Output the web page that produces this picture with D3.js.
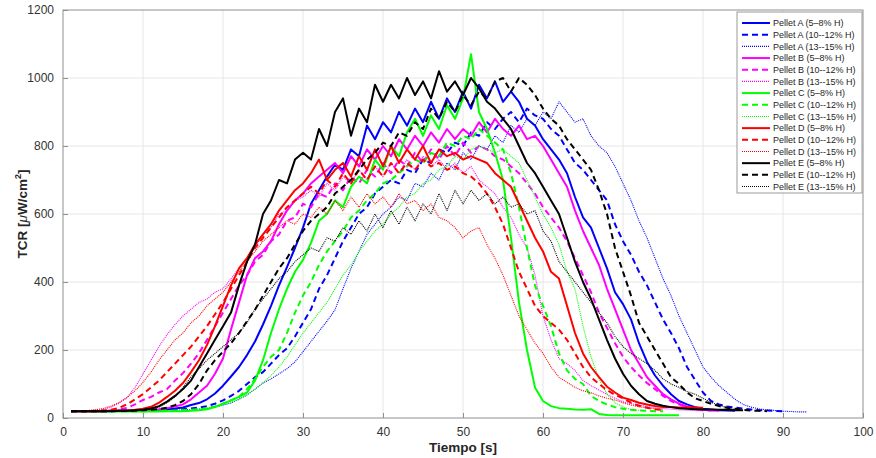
<!DOCTYPE html>
<html>
<head>
<meta charset="utf-8">
<script src="https://cdn.jsdelivr.net/npm/d3@7"></script>
<style>
  body { margin: 0; background: #fff; }
  svg { font-family: "Liberation Sans", Arial, sans-serif; }
</style>
</head>
<body>
<svg id="chart" width="876" height="458"></svg>
<script>
// sample times in seconds, one value per second starting at t = 1
const tiempo = d3.range(1, 94);

const xTicks = [0, 10, 20, 30, 40, 50, 60, 70, 80, 90, 100];
const yTicks = [0, 200, 400, 600, 800, 1000, 1200];

// Pellet A
const pelletA_5_8 = [20,20,20,20,20,21,21,21,22,22,23,24,26,28,31,38,44,55,72,95,122,150,185,225,275,330,390,444,500,560,630,670,710,745,730,790,770,860,820,870,840,900,860,910,870,930,880,940,900,960,910,980,940,990,930,960,930,880,860,820,790,760,720,650,590,560,500,440,370,335,290,220,165,125,95,70,50,40,32,27,25,23,22,21];
const pelletA_10_12 = [20,20,20,20,20,20,21,21,21,22,22,23,23,24,26,28,31,35,42,52,65,80,100,120,135,160,185,205,240,280,320,380,420,470,520,560,600,620,660,680,700,690,730,720,760,750,790,780,810,800,840,830,870,850,880,900,870,910,890,880,850,830,790,750,730,700,670,640,570,520,480,430,390,340,290,250,205,150,112,75,50,40,34,31,28,25,23,22,21,20];
const pelletA_13_15 = [20,20,20,20,20,20,20,21,21,21,22,22,23,23,24,25,26,28,32,38,44,55,68,85,103,115,130,145,165,195,225,255,285,318,380,440,490,540,570,600,620,650,640,690,680,720,700,750,730,780,760,800,790,830,810,860,840,880,860,900,880,930,900,870,880,830,800,780,740,690,640,580,530,470,410,360,300,250,200,150,120,95,75,55,40,32,27,24,22,20,19,18,18];

// Pellet B
const pelletB_5_8 = [20,20,20,20,20,21,21,22,22,23,24,26,29,34,40,55,75,95,130,175,260,340,420,470,490,520,570,610,640,660,690,710,730,750,720,770,740,790,760,800,770,820,790,830,800,840,810,850,820,850,830,870,840,880,850,830,860,820,830,800,760,720,680,610,550,500,450,380,320,260,200,160,120,95,70,55,42,34,28,24,22,21];
const pelletB_10_12 = [20,20,20,20,21,22,25,30,40,53,62,75,85,110,132,160,191,230,270,310,350,390,420,460,480,520,540,580,590,630,620,660,650,690,670,710,690,730,710,750,720,760,740,780,750,790,760,800,770,810,780,800,790,770,760,740,720,690,660,620,590,560,520,470,420,370,310,265,220,180,150,125,103,85,65,50,40,32,27,24,22];
const pelletB_13_15 = [20,20,21,22,25,32,44,60,90,130,170,210,245,275,300,320,340,350,370,380,410,440,470,500,540,560,600,610,640,650,670,650,690,670,710,690,730,700,740,710,750,720,760,730,770,740,760,730,750,720,740,700,680,660,620,590,540,500,420,300,230,175,160,140,110,95,82,70,58,48,42,38,34,30,28,26,24,23,22,21];

// Pellet C
const pelletC_5_8 = [20,20,20,19,19,19,19,19,19,19,19,19,20,20,20,21,23,26,32,42,52,62,75,110,170,250,320,380,430,465,515,580,600,640,620,680,710,690,760,730,800,770,840,880,830,890,850,920,880,940,1070,900,850,780,700,530,340,200,90,50,35,29,27,25,24,26,12,9,8,8,8,8,8,8,8,8,8];
const pelletC_10_12 = [20,20,20,20,20,20,20,20,20,20,21,21,21,22,23,24,26,29,34,42,52,62,85,115,150,180,200,250,310,360,400,450,490,520,550,590,610,640,660,690,700,720,740,760,750,780,770,810,800,830,820,850,830,810,790,720,620,500,390,330,270,190,140,115,100,65,50,40,32,27,24,22,21,20,20];
const pelletC_13_15 = [20,20,20,20,20,20,20,20,20,20,20,21,21,22,23,24,26,29,34,40,46,55,68,85,103,125,150,180,215,250,280,310,340,380,420,450,490,520,550,570,600,620,650,660,690,700,730,740,770,760,790,800,790,780,790,770,750,700,650,600,560,510,430,380,270,180,115,70,45,32,25,22];

// Pellet D
const pelletD_5_8 = [20,20,20,20,20,21,21,22,24,27,33,45,62,80,103,135,170,215,270,330,390,440,470,510,540,570,610,640,670,690,720,760,700,730,750,710,770,730,790,740,800,750,790,760,800,750,790,770,780,760,770,760,750,720,700,680,630,580,530,490,430,410,330,250,190,150,120,92,75,60,53,45,40,35,32,32,31,31,31,30];
const pelletD_10_12 = [20,20,20,21,22,24,30,40,55,70,90,110,135,160,185,210,240,270,305,340,380,420,460,500,530,560,590,620,640,660,680,660,700,680,720,690,730,700,740,710,750,720,750,730,760,740,750,730,740,720,710,690,660,620,570,500,430,380,330,300,280,260,230,190,150,120,100,82,68,58,45,36,30,26,24];
const pelletD_13_15 = [20,21,22,24,28,35,45,60,80,105,135,170,200,230,250,280,300,330,350,370,400,430,460,490,520,540,560,580,570,600,590,620,600,640,610,650,620,660,630,650,620,660,630,640,610,630,590,580,560,530,550,560,510,470,420,360,300,260,220,190,150,120,105,90,80,74,65,58,53,45,38,33,30,27,25];

// Pellet E
const pelletE_5_8 = [20,20,20,20,20,20,21,21,22,24,28,35,48,65,85,110,150,190,230,270,310,390,460,510,600,640,700,690,760,780,760,850,800,900,940,830,910,870,980,930,980,940,1000,950,990,940,1020,960,990,950,1000,970,930,910,880,850,800,750,720,680,640,600,530,460,400,350,290,230,175,130,95,70,50,42,36,32,29,27,26,25,25,24,24,23,23];
const pelletE_10_12 = [20,20,20,20,20,20,21,21,22,23,24,26,30,38,50,70,100,140,170,195,220,250,285,318,360,400,440,470,510,550,580,600,620,660,680,700,730,760,780,810,800,840,830,870,850,910,880,930,900,950,920,960,940,990,1000,960,1000,980,950,910,880,860,820,790,760,730,670,600,500,430,360,280,240,200,160,120,100,75,58,50,42,35,30,27,24,22,21,20];
const pelletE_13_15 = [20,20,20,20,20,20,21,21,22,24,27,32,45,62,90,121,145,170,190,210,230,250,280,320,350,380,410,430,460,480,500,490,530,520,560,540,580,550,600,560,610,570,620,580,630,600,660,610,670,630,670,640,660,630,650,620,630,600,610,550,520,460,430,400,370,340,310,280,240,210,190,175,160,140,115,100,90,78,70,58,46,38,30,25];

const legendLabels = [
  'Pellet A (5–8% H)', 'Pellet A (10--12% H)', 'Pellet A (13--15% H)',
  'Pellet B (5–8% H)', 'Pellet B (10--12% H)', 'Pellet B (13--15% H)',
  'Pellet C (5–8% H)', 'Pellet C (10--12% H)', 'Pellet C (13--15% H)',
  'Pellet D (5–8% H)', 'Pellet D (10--12% H)', 'Pellet D (13--15% H)',
  'Pellet E (5–8% H)', 'Pellet E (10--12% H)', 'Pellet E (13--15% H)'
];
const pelletColors = ['#0000ff', '#ff00ff', '#00ff00', '#ff0000', '#000000'];

(function() {
  const allSeries = [
    pelletA_5_8, pelletA_10_12, pelletA_13_15,
    pelletB_5_8, pelletB_10_12, pelletB_13_15,
    pelletC_5_8, pelletC_10_12, pelletC_13_15,
    pelletD_5_8, pelletD_10_12, pelletD_13_15,
    pelletE_5_8, pelletE_10_12, pelletE_13_15
  ];
  // humidity level -> line style (solid, dashed, dotted)
  const styles = [
    {dash: null, width: 2},
    {dash: '6,4', width: 2},
    {dash: '1,1', width: 1.1}
  ];
  const series = allSeries.map((vals, i) => ({
    label: legendLabels[i],
    color: pelletColors[Math.floor(i / 3)],
    style: styles[i % 3],
    points: vals.map((v, j) => ({t: tiempo[j], v: v}))
  }));

  const width = 876, height = 458;
  const margin = {top: 10, right: 13, bottom: 40, left: 63};
  const svg = d3.select('#chart');

  const x = d3.scaleLinear().domain([0, 100]).range([margin.left, width - margin.right]);
  const y = d3.scaleLinear().domain([0, 1200]).range([height - margin.bottom, margin.top]);

  // grid
  svg.append('g')
    .selectAll('line.gx')
    .data(xTicks.slice(1, -1))
    .enter().append('line')
    .attr('x1', d => x(d)).attr('x2', d => x(d))
    .attr('y1', margin.top).attr('y2', height - margin.bottom)
    .attr('stroke', '#e6e6e6');
  svg.append('g')
    .selectAll('line.gy')
    .data(yTicks.slice(1, -1))
    .enter().append('line')
    .attr('y1', d => y(d)).attr('y2', d => y(d))
    .attr('x1', margin.left).attr('x2', width - margin.right)
    .attr('stroke', '#e6e6e6');

  // lines
  const line = d3.line().x(d => x(d.t)).y(d => y(d.v));
  svg.append('g')
    .selectAll('path')
    .data(series)
    .enter().append('path')
    .attr('d', d => line(d.points))
    .attr('fill', 'none')
    .attr('stroke', d => d.color)
    .attr('stroke-width', d => d.style.width)
    .attr('stroke-dasharray', d => d.style.dash)
    .attr('stroke-linejoin', 'round');

  // axes (ticks point inward, like the original)
  const axisColor = '#8f8f8f', textColor = '#333';
  const xAxis = d3.axisBottom(x).tickValues(xTicks).tickSize(-5).tickPadding(9).tickFormat(d3.format('d'));
  const yAxis = d3.axisLeft(y).tickValues(yTicks).tickSize(-5).tickPadding(9).tickFormat(d3.format('d'));
  const gx = svg.append('g')
    .attr('transform', 'translate(0,' + (height - margin.bottom) + ')')
    .call(xAxis);
  const gy = svg.append('g')
    .attr('transform', 'translate(' + margin.left + ',0)')
    .call(yAxis);
  [gx, gy].forEach(g => {
    g.select('.domain').remove();
    g.selectAll('line').attr('stroke', axisColor);
    g.selectAll('text').attr('fill', textColor).style('font-size', '12px')
      .style('font-family', '"Liberation Sans", Arial, sans-serif');
  });
  svg.append('rect')
    .attr('x', margin.left).attr('y', margin.top)
    .attr('width', width - margin.left - margin.right)
    .attr('height', height - margin.top - margin.bottom)
    .attr('fill', 'none').attr('stroke', axisColor);

  // axis captions
  svg.append('text')
    .attr('x', (margin.left + width - margin.right) / 2)
    .attr('y', 452)
    .attr('text-anchor', 'middle')
    .attr('font-weight', 'bold').attr('font-size', 13.5).attr('fill', '#262626')
    .text('Tiempo [s]');
  const yCap = svg.append('text')
    .attr('transform', 'translate(27,' + (margin.top + height - margin.bottom) / 2 + ') rotate(-90)')
    .attr('text-anchor', 'middle')
    .attr('font-weight', 'bold').attr('font-size', 13.5).attr('fill', '#262626');
  yCap.append('tspan').text('TCR [');
  yCap.append('tspan').attr('font-style', 'italic').attr('font-weight', 'normal').text('μ');
  yCap.append('tspan').text('W/cm');
  yCap.append('tspan').attr('font-size', 9).attr('dy', -6).text('2');
  yCap.append('tspan').attr('dy', 6).text(']');

  // legend
  const lg = svg.append('g').attr('transform', 'translate(737,12)');
  lg.append('rect')
    .attr('width', 125).attr('height', 181)
    .attr('fill', '#fff').attr('stroke', '#9a9a9a');
  const item = lg.selectAll('g.item')
    .data(series)
    .enter().append('g')
    .attr('transform', (d, i) => 'translate(0,' + (11 + i * 11.68) + ')');
  item.append('line')
    .attr('x1', 5).attr('x2', 33)
    .attr('stroke', d => d.color)
    .attr('stroke-width', d => d.style.width)
    .attr('stroke-dasharray', d => d.style.dash);
  item.append('text')
    .attr('x', 36).attr('dy', '0.35em')
    .attr('font-size', 9).attr('fill', '#262626')
    .text(d => d.label);
})();
</script>
</body>
</html>
